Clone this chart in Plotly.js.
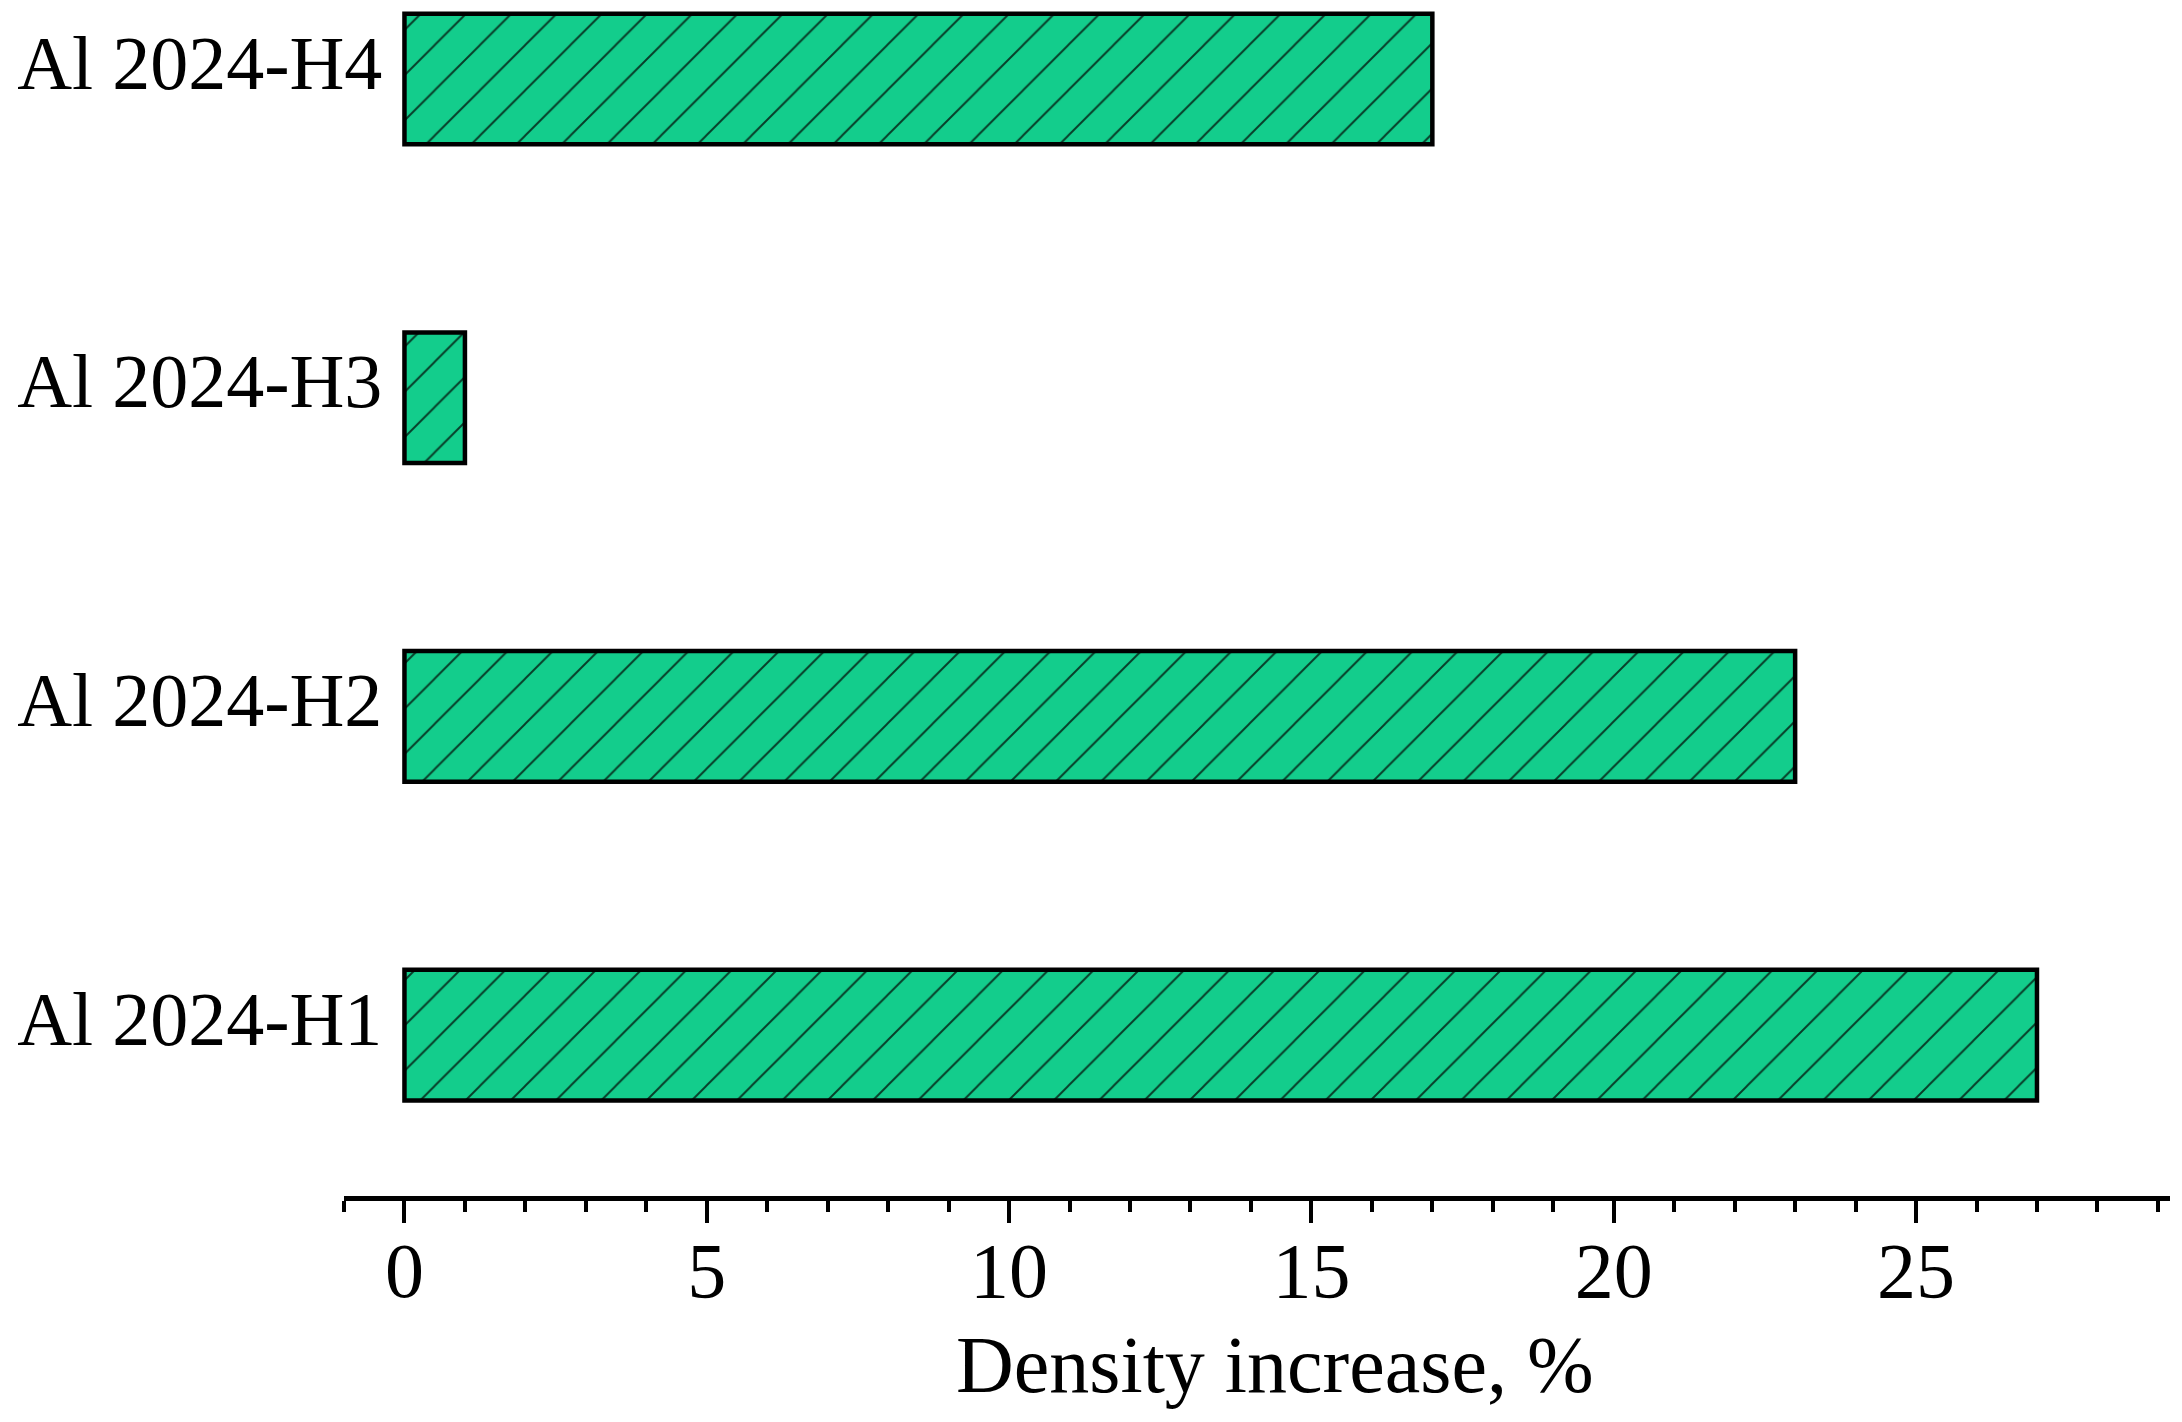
<!DOCTYPE html>
<html>
<head>
<meta charset="utf-8">
<script src="https://cdn.plot.ly/plotly-3.0.1.min.js"></script>
<style>
  html, body { margin: 0; padding: 0; background: #fff; }
</style>
</head>
<body>
<div id="graph"></div>
<script>
// bottom to top, as drawn
const samples = ["Al 2024-H1", "Al 2024-H2", "Al 2024-H3", "Al 2024-H4"];
const densityIncrease = [27, 23, 1, 17];
const xTickVals = [0, 5, 10, 15, 20, 25];
const xTitle = "Density increase, %";

const serif = "Liberation Serif, Times New Roman, serif";
const barGreen = "#13cd8c";

function initPlot() {
    const trace = {
        type: "bar",
        orientation: "h",
        y: samples,
        x: densityIncrease,
        width: 0.41,
        marker: {
            color: barGreen,
            line: { color: "#000", width: 4.5 },
            pattern: {
                shape: "/",
                size: 32,
                solidity: 0.06,
                fgcolor: "#073d28",
                bgcolor: barGreen
            }
        },
        hoverinfo: "x+y"
    };

    const layout = {
        width: 2182,
        height: 1422,
        margin: { l: 344, r: 12, t: 0, b: 226 },
        paper_bgcolor: "#fff",
        plot_bgcolor: "#fff",
        showlegend: false,
        font: { family: serif, size: 78, color: "#000" },
        xaxis: {
            range: [-1, 29.2],
            tickmode: "array",
            tickvals: xTickVals,
            ticktext: xTickVals.map(String),
            ticks: "outside",
            ticklen: 22,
            tickwidth: 4,
            tickcolor: "#000",
            ticklabelstandoff: -20,
            showline: true,
            linecolor: "#000",
            linewidth: 5,
            showgrid: false,
            zeroline: false,
            minor: {
                dtick: 1,
                tick0: 0,
                ticks: "outside",
                ticklen: 11,
                tickwidth: 4,
                tickcolor: "#000",
                showgrid: false
            },
            tickfont: { family: serif, size: 78, color: "#000" }
        },
        yaxis: {
            type: "category",
            range: [-0.505, 3.248],
            anchor: "free",
            position: 0.021,
            showline: false,
            showgrid: false,
            zeroline: false,
            ticks: "",
            ticklabelshift: -17,
            tickfont: { family: serif, size: 76, color: "#000" }
        },
        annotations: [{
            text: xTitle,
            xref: "paper",
            yref: "paper",
            x: 0.510,
            y: -0.103,
            xanchor: "center",
            yanchor: "top",
            showarrow: false,
            font: { family: serif, size: 80, color: "#000" }
        }]
    };

    const config = {
        displaylogo: false,
        displayModeBar: false,
        staticPlot: true
    };

    Plotly.newPlot("graph", [trace], layout, config);
}

document.addEventListener("DOMContentLoaded", () => {
    initPlot();
});
</script>
</body>
</html>
